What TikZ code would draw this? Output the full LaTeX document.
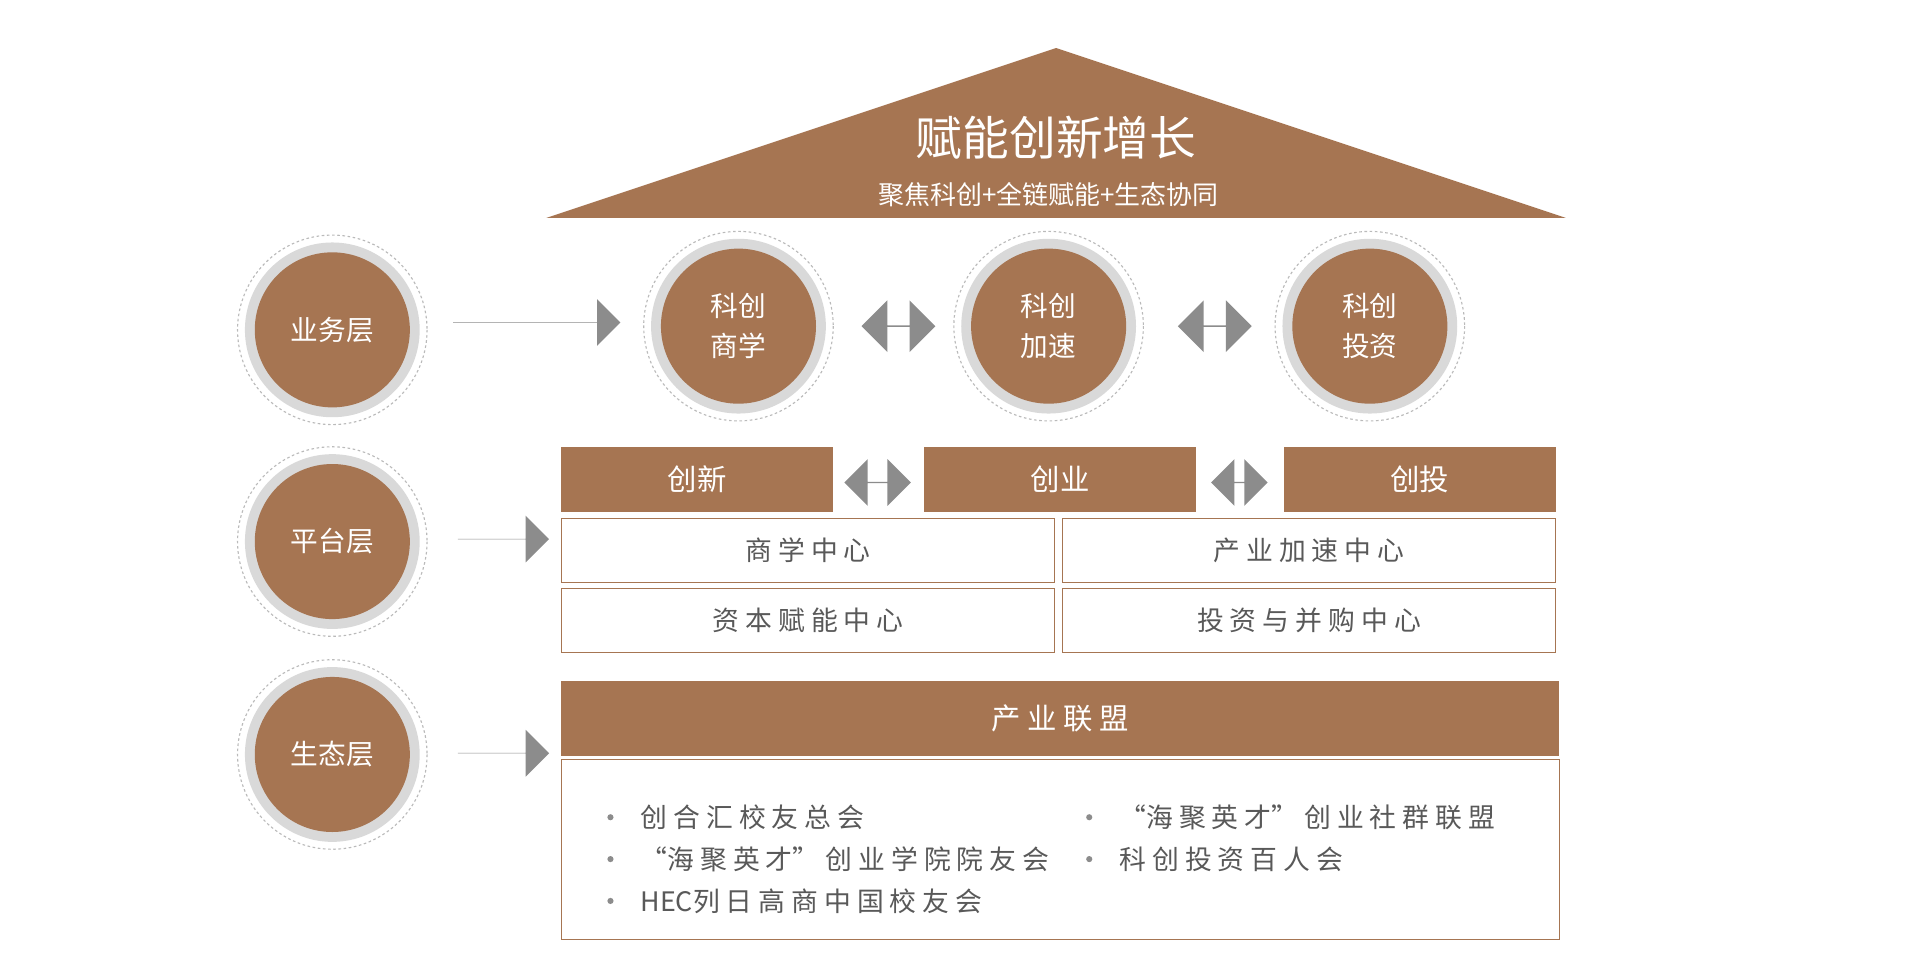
\documentclass[tikz,border=0pt]{standalone}
\usepackage{fontspec}
\setmainfont{Noto Sans CJK SC}
\usetikzlibrary{shapes.arrows}
\definecolor{br}{HTML}{A67552}
\definecolor{ring}{HTML}{D9D9D9}
\definecolor{ar}{HTML}{8C8C8C}
\definecolor{tx}{HTML}{595959}
\begin{document}
\begin{tikzpicture}[x=0.05cm,y=-0.05cm,
 ftitle/.style={font=\fontsize{54}{60}\selectfont},
 fbig/.style={font=\fontsize{34}{40}\selectfont},
 fmid/.style={font=\fontsize{31}{36}\selectfont},
 bbox/.style={fill=br,draw=none,text=white,fbig},
 wbox/.style={draw=br,line width=1.2pt,fill=white,text=tx,fmid},
 sarr/.style={single arrow,fill=ar,draw=none,minimum height=#1*0.05cm,minimum width=1.9cm,single arrow head extend=0.65cm,inner sep=0pt,single arrow head indent=0pt},
 darr/.style={double arrow,fill=ar,draw=none,minimum height=#1*0.05cm,minimum width=2.1cm,double arrow head extend=0.25cm,inner sep=0pt,text width=0.5cm},
 fb/.style={text=tx,fmid,anchor=west}]
\useasboundingbox (0,0) rectangle (1560,793);
\fill[white] (0,0) rectangle (1560,793);
% roof
\fill[br] (444,177) -- (858,39) -- (1272,177) -- cycle;
\node[ftitle,text=white] (t) at (858,112) {赋能创新增长};
\node[font=\fontsize{30}{34}\selectfont,text=white] (st) at (852,158) {聚焦科创+全链赋能+生态协同};
% circles
\newcommand{\mycirc}[4]{%
 \draw[ar!60,dashed,line width=1.3pt] (#1,#2) circle[radius=77];
 \fill[ring] (#1,#2) circle[radius=71];
 \node[circle,fill=br,minimum size=6.3cm,inner sep=0pt,text=white,align=center,font=\fontsize{32}{46}\selectfont] (#3) at (#1,#2) {#4};}
\mycirc{270}{268}{c1}{业务层}
\mycirc{270}{440}{c2}{平台层}
\mycirc{270}{613}{c3}{生态层}
\mycirc{600}{265}{k1}{科创\\商学}
\mycirc{852}{265}{k2}{科创\\加速}
\mycirc{1113}{265}{k3}{科创\\投资}
% arrows
\node[sarr=136] (a1) at (436,262) {};
\node[sarr=74] (a2) at (409,438) {};
\node[sarr=74] (a3) at (409,612) {};
\node[darr=60] (d1) at (730,265) {};
\node[darr=60] (d2) at (987,265) {};
\node[darr=54,minimum width=1.9cm] (d3) at (713,392) {};
\node[darr=46,minimum width=1.9cm] (d4) at (1007,392) {};
% platform
\node[bbox,minimum width=221*0.05cm,minimum height=53*0.05cm,inner sep=0pt] (p1) at (566.5,389.5) {创新};
\node[bbox,minimum width=221*0.05cm,minimum height=53*0.05cm,inner sep=0pt] (p2) at (861.5,389.5) {创业};
\node[bbox,minimum width=221*0.05cm,minimum height=53*0.05cm,inner sep=0pt] (p3) at (1153.5,389.5) {创投};
\node[wbox,minimum width=401*0.05cm,minimum height=52*0.05cm,inner sep=0pt] (w1) at (656.5,447) {商 学 中 心};
\node[wbox,minimum width=401*0.05cm,minimum height=52*0.05cm,inner sep=0pt] (w2) at (1063.5,447) {产 业 加 速 中 心};
\node[wbox,minimum width=401*0.05cm,minimum height=52*0.05cm,inner sep=0pt] (w3) at (656.5,504) {资 本 赋 能 中 心};
\node[wbox,minimum width=401*0.05cm,minimum height=52*0.05cm,inner sep=0pt] (w4) at (1063.5,504) {投 资 与 并 购 中 心};
% ecology
\node[bbox,minimum width=811*0.05cm,minimum height=61*0.05cm,inner sep=0pt] (e1) at (861.5,583.5) {产 业 联 盟};
\node[draw=br,line width=1.2pt,minimum width=811*0.05cm,minimum height=146*0.05cm,inner sep=0pt] (e2) at (861.5,690) {};
\foreach \x/\y/\n in {496/664/b1,496/698/b2,496/732/b3,885/664/b4,885/698/b5}
 \fill[ar] (\x,\y) circle[radius=2.5];
\node[fb] (l1) at (518,664) {创 合 汇 校 友 总 会};
\node[fb] (l2) at (518,698) {“海 聚 英 才” 创 业 学 院 院 友 会};
\node[fb] (l3) at (518,732) {HEC列 日 高 商 中 国 校 友 会};
\node[fb] (l4) at (907,664) {“海 聚 英 才” 创 业 社 群 联 盟};
\node[fb] (l5) at (907,698) {科 创 投 资 百 人 会};
\end{tikzpicture}
\end{document}
